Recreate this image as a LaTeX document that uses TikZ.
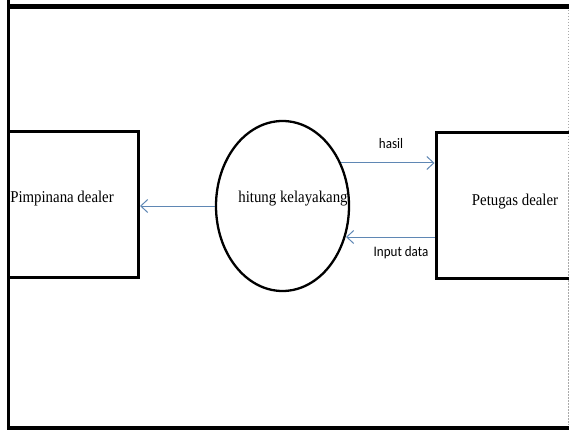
\documentclass[tikz,border=0pt]{standalone}
\usepackage{fontspec}
\usepackage{graphicx}
\setmainfont{Liberation Serif}
\newfontfamily\lblfont{Carlito}
\usetikzlibrary{shapes.geometric,arrows.meta}
\definecolor{flowblue}{RGB}{95,135,180}
\definecolor{edgegray}{RGB}{170,170,170}
\newcommand{\squeeze}[1]{\scalebox{0.9}[1]{#1}}
\begin{document}
\begin{tikzpicture}[x=1pt,y=-1pt,
  entity/.style={draw=black,line width=3pt,rectangle,inner sep=0pt},
  proc/.style={draw=black,line width=2.3pt,ellipse,inner sep=0pt,minimum width=133pt,minimum height=170pt},
  boxtext/.style={font=\fontsize{16.5}{18}\selectfont,inner sep=0pt},
  flowlbl/.style={font=\lblfont\fontsize{14.5}{16}\selectfont,inner sep=0pt},
  flow/.style={draw=flowblue,line width=1pt,-{Straight Barb[length=7pt,width=13pt,line width=1pt]}}]
\useasboundingbox (0,0) rectangle (569,430);
\begin{scope}
\clip (0,0) rectangle (569,430);
% frame
\coordinate (ftl) at (7,7);
\coordinate (ftr) at (569,7);
\coordinate (fbl) at (7,428);
\coordinate (fbr) at (569,428);
\draw[line width=5pt] (ftl) -- (ftr);
\draw[line width=5pt] (fbl) -- (fbr);
\draw[line width=3pt] (8,0) -- (8,430);
\draw[edgegray,line width=0.8pt,dash pattern=on 1.5pt off 1.5pt] (568,10) -- (568,425);
% entities
\node[entity,minimum width=130pt,minimum height=145pt] (pim) at (73.5,204.5) {};
\node[entity,minimum width=140pt,minimum height=145pt] (pet) at (506,205.5) {};
\node[proc] (proc) at (282.5,206) {};
% texts
\node[boxtext] (pimtext) at (62,199) {\squeeze{Pimpinana dealer}};
\node[boxtext] (proctext) at (293,199) {\squeeze{hitung kelayakang}};
\node[boxtext] (pettext) at (515,202) {\squeeze{Petugas dealer}};
% flows
\draw[flow] (proc.west) -- (proc.west -| pim.east);
\coordinate (hs) at (341,163);
\coordinate (is) at (346,237);
\draw[flow] (hs) -- (hs -| pet.west);
\draw[flow] (is -| pet.west) -- (is);
\node[flowlbl] (hasil) at (391,144) {\squeeze{hasil}};
\node[flowlbl] (input) at (401,253) {\squeeze{Input data}};
\end{scope}
\end{tikzpicture}
\end{document}
